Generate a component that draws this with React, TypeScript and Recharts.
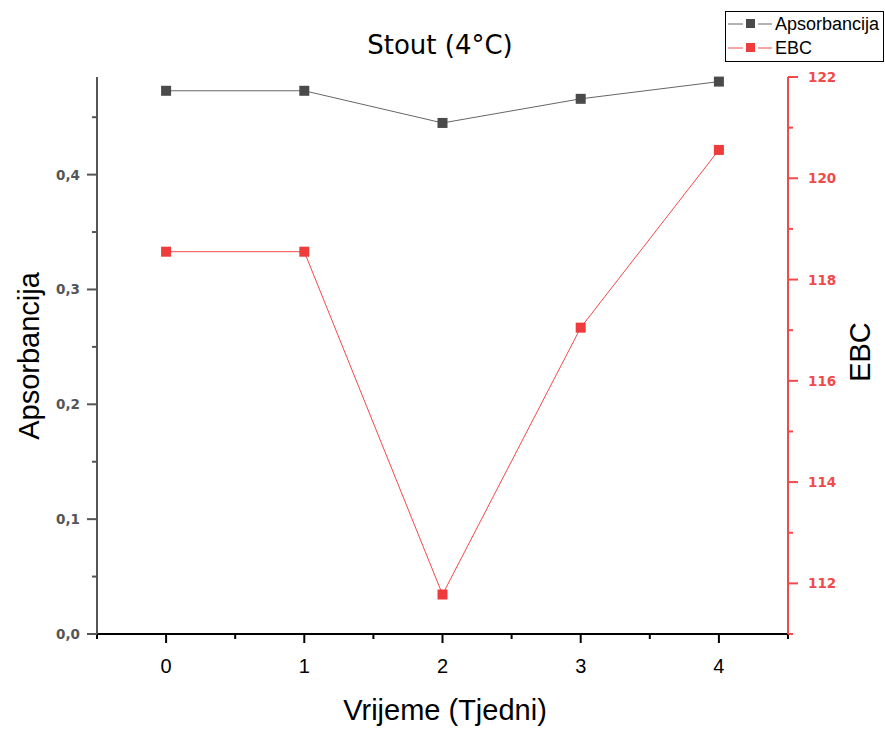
import { LineChart, Line, XAxis, YAxis } from "recharts";

const weeks = [0, 1, 2, 3, 4];
const apsorbancija = [0.473, 0.473, 0.445, 0.466, 0.481];
const ebc = [118.55, 118.55, 111.78, 117.05, 120.56];

const xTicks = [-0.5, 0, 0.5, 1, 1.5, 2, 2.5, 3, 3.5, 4, 4.5];
const leftTicks = [0, 0.05, 0.1, 0.15, 0.2, 0.25, 0.3, 0.35, 0.4, 0.45];
const rightTicks = [111, 112, 113, 114, 115, 116, 117, 118, 119, 120, 121, 122];

const data = weeks.map((w, i) => ({ week: w, abs: apsorbancija[i], ebc: ebc[i] }));

const GRAY = "#555555";
const RED = "#f24a4a";
const FONT = "'Liberation Sans', Arial, sans-serif";
const TICK_FONT = "'DejaVu Sans', Verdana, sans-serif";

function XTick(props: any) {
  const { x, y, payload } = props;
  const v = payload.value;
  const major = Number.isInteger(v);
  return (
    <g>
      <line x1={x} x2={x} y1={y} y2={y + (major ? 9 : 5)} stroke="#000" strokeWidth={2} />
      {major ? (
        <text x={x} y={y + 39} textAnchor="middle" fontSize={20} fontFamily={FONT} fill="#000">
          {v}
        </text>
      ) : null}
    </g>
  );
}

function LeftTick(props: any) {
  const { x, y, payload } = props;
  const v = payload.value;
  const major = Math.abs(v * 10 - Math.round(v * 10)) < 1e-6;
  return (
    <g>
      <line x1={x} x2={x - (major ? 10 : 5)} y1={y} y2={y} stroke={GRAY} strokeWidth={2} />
      {major ? (
        <text
          x={x - 17}
          y={y}
          dy={5}
          textAnchor="end"
          fontSize={13.5}
          fontWeight="bold"
          fontFamily={TICK_FONT}
          fill={GRAY}
        >
          {v.toFixed(1).replace(".", ",")}
        </text>
      ) : null}
    </g>
  );
}

function RightTick(props: any) {
  const { x, y, payload } = props;
  const v = payload.value;
  const major = v % 2 === 0;
  return (
    <g>
      <line x1={x} x2={x + (major ? 10 : 5)} y1={y} y2={y} stroke={RED} strokeWidth={2} />
      {major ? (
        <text
          x={x + 20}
          y={y}
          dy={5}
          textAnchor="start"
          fontSize={13.5}
          fontWeight="bold"
          fontFamily={TICK_FONT}
          fill={RED}
        >
          {v}
        </text>
      ) : null}
    </g>
  );
}

const squareDot = (color: string) => (props: any) => {
  const { cx, cy, index } = props;
  return <rect key={index} x={cx - 5} y={cy - 5} width={10} height={10} fill={color} />;
};

const legendItems = [
  { name: "Apsorbancija", line: "#666", fill: "#4a4a4a" },
  { name: "EBC", line: RED, fill: "#ee3b3b" },
];

export default function App() {
  return (
    <div style={{ position: "absolute", left: 0, top: 0, width: 885, height: 729, background: "#fff" }}>
      <LineChart width={885} height={729} data={data} margin={{ top: 77, right: 20, bottom: 20, left: 20 }}>
        <XAxis
          dataKey="week"
          type="number"
          domain={[-0.5, 4.5]}
          ticks={xTicks}
          interval={0}
          tickSize={0}
          tickMargin={0}
          height={75}
          tick={<XTick />}
          tickLine={false}
          axisLine={{ stroke: "#000", strokeWidth: 2 }}
        />
        <YAxis
          yAxisId="left"
          orientation="left"
          domain={[0, 0.485]}
          ticks={leftTicks}
          interval={0}
          tickSize={0}
          tickMargin={0}
          width={77}
          tick={<LeftTick />}
          tickLine={false}
          axisLine={{ stroke: GRAY, strokeWidth: 2 }}
        />
        <YAxis
          yAxisId="right"
          orientation="right"
          domain={[111, 122]}
          ticks={rightTicks}
          interval={0}
          tickSize={0}
          tickMargin={0}
          width={77}
          tick={<RightTick />}
          tickLine={false}
          axisLine={{ stroke: RED, strokeWidth: 2 }}
        />
        <Line
          yAxisId="left"
          dataKey="abs"
          stroke="#666"
          strokeWidth={1}
          dot={squareDot("#4a4a4a")}
          isAnimationActive={false}
        />
        <Line
          yAxisId="right"
          dataKey="ebc"
          stroke={RED}
          strokeWidth={1}
          dot={squareDot("#ee3b3b")}
          isAnimationActive={false}
        />
      </LineChart>

      <div style={{ position: "absolute", left: 240, width: 400, top: 29, textAlign: "center", fontFamily: TICK_FONT, fontSize: 26, lineHeight: "32px" }}>
        Stout (4°C)
      </div>
      <div style={{ position: "absolute", left: 245, width: 400, top: 693, textAlign: "center", fontFamily: FONT, fontSize: 29, lineHeight: "34px" }}>
        Vrijeme (Tjedni)
      </div>
      <div
        style={{
          position: "absolute",
          left: 29 - 120,
          top: 356 - 17,
          width: 240,
          textAlign: "center",
          fontFamily: FONT,
          fontSize: 29,
          lineHeight: "34px",
          transform: "rotate(-90deg)",
        }}
      >
        Apsorbancija
      </div>
      <div
        style={{
          position: "absolute",
          left: 860 - 100,
          top: 352 - 17,
          width: 200,
          textAlign: "center",
          fontFamily: FONT,
          fontSize: 29,
          lineHeight: "34px",
          transform: "rotate(-90deg)",
        }}
      >
        EBC
      </div>

      <div
        style={{
          position: "absolute",
          left: 725,
          top: 11,
          width: 157,
          height: 49,
          border: "1px solid #000",
          fontFamily: FONT,
          fontSize: 18,
          background: "#fff",
        }}
      >
        {legendItems.map((item) => (
          <div key={item.name} style={{ display: "flex", alignItems: "center", height: 24, marginTop: 0 }}>
            <svg width={48} height={24} style={{ flex: "none" }}>
              <line x1={2} x2={17} y1={12} y2={12} stroke={item.line} strokeWidth={1} />
              <rect x={20} y={7} width={9} height={9} fill={item.fill} />
              <line x1={32} x2={46} y1={12} y2={12} stroke={item.line} strokeWidth={1} />
            </svg>
            <span style={{ marginLeft: 1, lineHeight: "24px" }}>{item.name}</span>
          </div>
        ))}
      </div>
    </div>
  );
}
